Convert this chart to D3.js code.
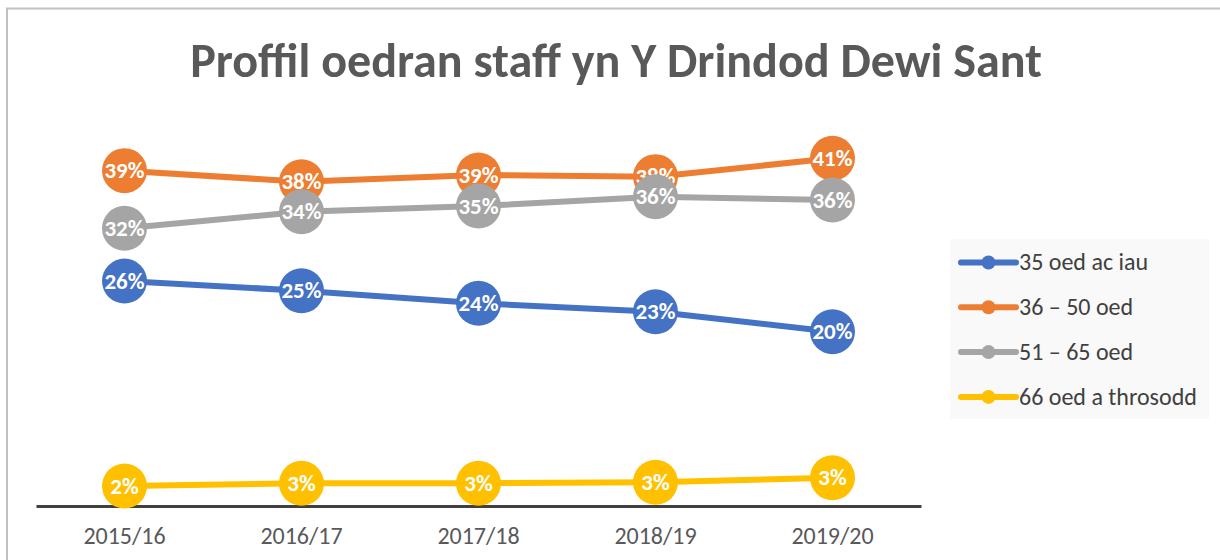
<!DOCTYPE html>
<html>
<head>
<meta charset="utf-8">
<script src="https://cdn.jsdelivr.net/npm/d3@7"></script>
<style>
  body { margin: 0; background: #fff; }
  svg { display: block; }
</style>
</head>
<body>
<script>
// data (percent)
const years = ["2015/16", "2016/17", "2017/18", "2018/19", "2019/20"];
const seriesNames = ["35 oed ac iau", "36 – 50 oed", "51 – 65 oed", "66 oed a throsodd"];
const under35 = [26.25, 25.12, 23.65, 22.67, 20.34];
const age36to50 = [39.13, 37.84, 38.62, 38.43, 40.57];
const age51to65 = [32.4, 34.34, 35.0, 36.09, 35.71];
const over66 = [2.33, 2.65, 2.65, 2.77, 3.3];
const colors = ["#4472c4", "#ed7d31", "#a5a5a5", "#ffc000"];
const yMax = 45;

const width = 1220, height = 560;
const font = "Carlito, Calibri, 'Open Sans', sans-serif";

const series = [under35, age36to50, age51to65, over66].map((values, i) => ({
  name: seriesNames[i],
  color: colors[i],
  values: values.map((v, j) => ({ year: years[j], v }))
}));

const svg = d3.select("body").append("svg")
  .attr("width", width)
  .attr("height", height)
  .attr("viewBox", [0, 0, width, height]);

// chart frame (only top and left edges visible)
svg.append("path")
  .attr("d", "M7,560V8.5H1220")
  .attr("fill", "none")
  .attr("stroke", "#c0c0c0")
  .attr("stroke-width", 2);

// title, fitted to the reference width
const title = svg.append("text")
  .attr("x", 616)
  .attr("y", 77)
  .attr("text-anchor", "middle")
  .attr("font-family", font)
  .attr("font-weight", "bold")
  .attr("font-size", 40)
  .attr("fill", "#595959")
  .text("Proffil oedran staff yn Y Drindod Dewi Sant");
const tw = title.node().getComputedTextLength();
title.attr("font-size", 40 * 852 / tw);

const x = d3.scaleBand(years, [36, 921]);
const y = d3.scaleLinear([0, yMax], [506, 506 - yMax * 8.57]);
const cx = d => x(d) + x.bandwidth() / 2;

// x axis
const xAxis = svg.append("g")
  .attr("transform", "translate(0,506)")
  .call(d3.axisBottom(x).tickSize(0).tickPadding(21));
xAxis.select(".domain").attr("stroke", "#404040").attr("stroke-width", 3);
xAxis.selectAll("text")
  .attr("font-family", font)
  .attr("font-size", 24)
  .attr("fill", "#595959");

// lines
const line = d3.line().x(d => cx(d.year)).y(d => y(d.v));
svg.append("g")
  .selectAll("path")
  .data(series)
  .join("path")
  .attr("fill", "none")
  .attr("stroke", d => d.color)
  .attr("stroke-width", 6)
  .attr("stroke-linejoin", "round")
  .attr("d", d => line(d.values));

// markers with labels
const pts = svg.append("g")
  .selectAll("g")
  .data(series)
  .join("g");
pts.selectAll("circle")
  .data(d => d.values.map(p => ({ ...p, color: d.color })))
  .join("circle")
  .attr("cx", d => cx(d.year))
  .attr("cy", d => y(d.v))
  .attr("r", 22.5)
  .attr("fill", d => d.color);
pts.selectAll("text")
  .data(d => d.values)
  .join("text")
  .attr("x", d => cx(d.year))
  .attr("y", d => y(d.v))
  .attr("dy", "0.33em")
  .attr("text-anchor", "middle")
  .attr("font-family", font)
  .attr("font-weight", "bold")
  .attr("font-size", 23)
  .attr("fill", "#fff")
  .text(d => Math.round(d.v) + "%");

// legend
const legend = svg.append("g");
legend.append("rect")
  .attr("x", 950).attr("y", 239)
  .attr("width", 259).attr("height", 180)
  .attr("fill", "#f9f9f9");
const item = legend.selectAll("g")
  .data(series)
  .join("g")
  .attr("transform", (d, i) => `translate(0,${262.5 + i * 44.8})`);
item.append("line")
  .attr("x1", 961).attr("x2", 1016)
  .attr("stroke", d => d.color)
  .attr("stroke-width", 6)
  .attr("stroke-linecap", "round");
item.append("circle")
  .attr("cx", 988.5)
  .attr("r", 7)
  .attr("fill", d => d.color);
item.append("text")
  .attr("x", 1019)
  .attr("dy", "0.33em")
  .attr("font-family", font)
  .attr("font-size", 24)
  .attr("fill", "#404040")
  .text(d => d.name);
</script>
</body>
</html>
